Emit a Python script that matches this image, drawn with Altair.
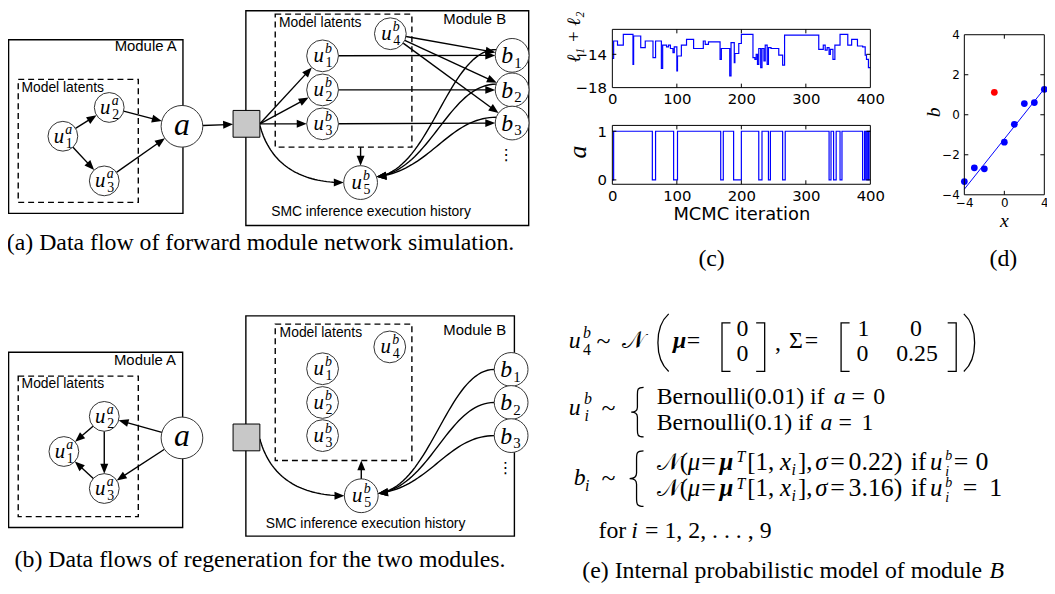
import math
import numpy as np
import pandas as pd
import altair as alt

# ======================= values =======================
# (c) upper trace: l1 + l2 over the MCMC run, given as (iteration, value) step changes
ll_steps = [
    (0, -14.5), (2, -12.4), (8, -12.9), (17, -11.6), (32, -15.2), (33, -11.8),
    (44, -13.2), (51, -12.4), (63, -14.4), (67, -12.4), (76, -15.7), (78, -12.9),
    (84, -13.1), (87, -12.9), (90, -13.3), (94, -13.8), (96, -13.1), (100, -16.0),
    (101, -14.2), (107, -12.9), (115, -12.2), (126, -13.3), (141, -12.4), (144, -12.8),
    (149, -12.5), (167, -14.6), (169, -13.3), (182, -16.6), (184, -12.6), (189, -15.0),
    (190, -13.9), (196, -12.7), (200, -11.6), (218, -14.4), (221, -14.6), (223, -14.0),
    (225, -15.2), (227, -13.3), (230, -15.6), (232, -13.3), (235, -14.8), (237, -12.9),
    (240, -15.2), (242, -13.2), (246, -13.3), (258, -14.1), (264, -15.3), (267, -11.7),
    (320, -13.4), (327, -12.9), (330, -13.5), (333, -13.2), (336, -14.0), (338, -13.4),
    (342, -14.6), (345, -12.9), (353, -11.6), (365, -12.9), (371, -12.2), (380, -13.0),
    (388, -13.1), (392, -14.1), (394, -14.6), (397, -15.6), (400, -15.6),
]
# (c) lower trace: value of a, (iteration, value) step changes
a_steps = [
    (0, 0), (2, 1), (62, 0), (67, 1), (95, 0), (101, 1), (168, 0), (172, 1),
    (188, 0), (200, 1), (227, 0), (232, 1), (242, 0), (245, 1), (264, 0), (268, 1),
    (336, 0), (339, 1), (343, 0), (347, 1), (353, 0), (356, 1), (388, 0), (391, 1),
    (393, 0), (395, 1), (397, 0), (398, 1), (400, 1),
]
iter_ticks = [0, 100, 200, 300, 400]
ll_ticks = [-18, -14]
a_ticks = [0, 1]
ll_dom = [-18, -11]
a_dom = [-0.09, 1.12]
iter_dom = [0, 400]

# (d) data points, outlier flag and fitted line
d_x = [-4, -3, -2, -1, 0, 1, 2, 3, 4]
d_b = [-3.34, -2.65, -2.7, 1.12, -1.37, -0.48, 0.56, 0.61, 1.27]
d_out = [0, 0, 0, 1, 0, 0, 0, 0, 0]
fit_x = [-4, 4]
fit_b = [-3.72, 1.3]
d_xticks = [-4, 0, 4]
d_bticks = [-4, -2, 0, 2, 4]
d_dom = [-4, 4]

# ======================= layout (reference pixel coordinates) =======================
W, H = 1047, 578
X0 = Y0 = 8
SERIF, SANS, MPL = "Liberation Serif", "Liberation Sans", "DejaVu Sans"

CX = alt.Scale(domain=[X0, X0 + W], range=[0, W], nice=False, zero=False)
CY = alt.Scale(domain=[Y0, Y0 + H], range=[0, H], nice=False, zero=False)


def ex(f="X"):
    return alt.X(f + ":Q", scale=CX, axis=None)


def ey(f="Y"):
    return alt.Y(f + ":Q", scale=CY, axis=None)


# diagram nodes: id -> (kind, x, y, r, main, sup, sub)
NODES = {
    "a_u1": ("u", 63.3, 135, 15, "u", "a", "1"),
    "a_u2": ("u", 110, 106, 15, "u", "a", "2"),
    "a_u3": ("u", 105, 180, 15, "u", "a", "3"),
    "a_a": ("a", 183.3, 125, 21, "a", "", ""),
    "a_sq": ("sq", 248.3, 122.5, 13.5, "", "", ""),
    "a_ub1": ("u", 325, 54, 16, "u", "b", "1"),
    "a_ub2": ("u", 325, 88.3, 16, "u", "b", "2"),
    "a_ub3": ("u", 325, 122.5, 16, "u", "b", "3"),
    "a_ub4": ("u", 393.3, 31.7, 16, "u", "b", "4"),
    "a_ub5": ("u", 363.3, 181.7, 17, "u", "b", "5"),
    "a_b1": ("b", 516, 53.5, 17, "b", "", "1"),
    "a_b2": ("b", 516, 88.3, 17, "b", "", "2"),
    "a_b3": ("b", 516, 121.7, 17, "b", "", "3"),
    "a_lat": ("pt", 363.3, 146, 0, "", "", ""),
    "b_u1": ("u", 64.3, 452.7, 15, "u", "a", "1"),
    "b_u2": ("u", 105, 417.3, 15, "u", "a", "2"),
    "b_u3": ("u", 105, 490, 15, "u", "a", "3"),
    "b_a": ("a", 183.3, 439, 21, "a", "", ""),
    "b_sq": ("sq", 248.3, 438.5, 13.5, "", "", ""),
    "b_ub1": ("u", 325, 369.3, 16, "u", "b", "1"),
    "b_ub2": ("u", 325, 403.3, 16, "u", "b", "2"),
    "b_ub3": ("u", 325, 436.7, 16, "u", "b", "3"),
    "b_ub4": ("u", 392.7, 347.3, 16, "u", "b", "4"),
    "b_ub5": ("u", 364, 497.3, 17, "u", "b", "5"),
    "b_b1": ("b", 515, 370, 17, "b", "", "1"),
    "b_b2": ("b", 515, 403.3, 17, "b", "", "2"),
    "b_b3": ("b", 515, 436.7, 17, "b", "", "3"),
    "b_lat": ("pt", 364, 461.7, 0, "", "", ""),
}
EDGES = [
    ("a_u1", "a_u2"), ("a_u1", "a_u3"), ("a_u2", "a_a"), ("a_u3", "a_a"), ("a_a", "a_sq"),
    ("a_sq", "a_ub1"), ("a_sq", "a_ub2"), ("a_sq", "a_ub3"),
    ("a_ub1", "a_b1"), ("a_ub2", "a_b2"), ("a_ub3", "a_b3"),
    ("a_ub4", "a_b1"), ("a_ub4", "a_b2"), ("a_ub4", "a_b3"), ("a_lat", "a_ub5"),
    ("b_a", "b_u2"), ("b_a", "b_u3"), ("b_u2", "b_u1"), ("b_u2", "b_u3"), ("b_u3", "b_u1"),
    ("b_ub5", "b_lat"),
]
CURVES = [
    ("a_sq", "a_ub5", "sq"), ("a_b1", "a_ub5", "bA"), ("a_b2", "a_ub5", "bA"), ("a_b3", "a_ub5", "bA"),
    ("b_sq", "b_ub5", "sq"), ("b_b1", "b_ub5", "bB"), ("b_b2", "b_ub5", "bB"), ("b_b3", "b_ub5", "bB"),
]
BOX_SOLID = [(8.6, 37.7, 184.3, 212.7), (247.7, 8.6, 532.7, 225),
             (8.6, 352.7, 184, 529.3), (247.7, 316, 518.3, 538)]
BOX_DASH = [(18.3, 77.7, 139.3, 201.7), (277.3, 12, 415, 146),
            (18.3, 376.7, 139.3, 518.3), (277.3, 324.3, 415, 461.7)]
AH = 10  # arrow head length
ARROW = "M1,0L-1,-0.8L-1,0.8Z"


# --------- geometry from the node table ---------
def unit(dx, dy):
    n = math.hypot(dx, dy) or 1.0
    return dx / n, dy / n


seg_rows, head_rows = [], []
for s, t in EDGES:
    ks, sx, sy, sr = NODES[s][:4]
    kt, tx, ty, tr = NODES[t][:4]
    if ks == "sq":
        p0 = (sx + sr, sy)
    else:
        ux, uy = unit(tx - sx, ty - sy)
        p0 = (sx + ux * sr, sy + uy * sr)
    ux, uy = unit(tx - p0[0], ty - p0[1])
    if kt == "sq":
        k = min(tr / abs(ux) if ux else 1e9, tr / abs(uy) if uy else 1e9)
    else:
        k = tr
    tip = (tx - ux * k, ty - uy * k)
    seg_rows.append((p0[0], p0[1], tip[0] - ux * AH * 0.6, tip[1] - uy * AH * 0.6))
    head_rows.append((tip[0] - ux * AH / 2, tip[1] - uy * AH / 2, math.degrees(math.atan2(uy, ux)) % 360))

curve_rows = []
for ci, (s, t, style) in enumerate(CURVES):
    ks, sx, sy, sr = NODES[s][:4]
    kt, tx, ty, tr = NODES[t][:4]
    if style == "sq":
        P0 = np.array([sx + sr, sy + 1.5])
        P3 = np.array([tx - tr, ty])
        P1 = np.array([P0[0] + 10, P0[1] + 0.65 * (P3[1] - P0[1])])
        P2 = np.array([P3[0] - 0.55 * (P3[0] - P0[0]), P3[1]])
    else:
        a0 = math.radians(200 if style == "bA" else 180)
        a3 = math.radians(-20 if style == "bA" else -8)
        P0 = np.array([sx + sr * math.cos(a0), sy + sr * math.sin(a0)])
        P3 = np.array([tx + tr * math.cos(a3), ty + tr * math.sin(a3)])
        dx = P0[0] - P3[0]
        P1 = np.array([P0[0] - 0.4 * dx, P0[1]])
        P2 = np.array([P3[0] + 0.45 * dx, P3[1] - 6])
    ux, uy = unit(*(P3 - P2))
    for k, tt in enumerate(np.linspace(0, 0.97, 40)):
        p = (1 - tt) ** 3 * P0 + 3 * (1 - tt) ** 2 * tt * P1 + 3 * (1 - tt) * tt ** 2 * P2 + tt ** 3 * P3
        curve_rows.append((ci, k, p[0], p[1]))
    head_rows.append((P3[0] - ux * AH / 2, P3[1] - uy * AH / 2, math.degrees(math.atan2(uy, ux)) % 360))

# --------- text pieces ---------
T = []  # (text, x, y_baseline, class, size, align)
for nid, (kind, x, y, r, main, sup, sub) in NODES.items():
    if kind == "u":
        T += [(main, x - 4, y + 6.5, "it", 21, "center"), (sup, x + 6, y - 2.5, "it", 14, "center"),
              (sub, x + 6.5, y + 11.5, "rm", 14, "center")]
    elif kind == "a":
        T.append((main, x, y + 8.5, "it", 32, "center"))
    elif kind == "b":
        T += [(main, x - 5, y + 8, "it", 24, "center"), (sub, x + 6, y + 12.5, "rm", 15, "center")]

T += [
    ("Module A", 178, 49.5, "sans", 15, "right"), ("Model latents", 21.5, 90.2, "sans", 14, "left"),
    ("Module B", 510, 21.5, "sans", 15, "right"), ("Model latents", 281, 24.5, "sans", 14, "left"),
    ("SMC inference execution history", 373.8, 215, "sans", 14, "center"),
    ("Module A", 177.3, 366, "sans", 15, "right"), ("Model latents", 21.7, 389, "sans", 14, "left"),
    ("Module B", 510, 335, "sans", 15, "right"), ("Model latents", 281.7, 337, "sans", 14, "left"),
    ("SMC inference execution history", 368.3, 530, "sans", 14, "center"),
    ("⋮", 510, 159, "dv", 16, "center"), ("⋮", 509.3, 474, "dv", 16, "center"),
    # captions
    ("(a) Data flow of forward module network simulation.", 262.5, 250, "rm", 24, "center"),
    ("(b) Data flows of regeneration for the two modules.", 262, 569, "rm", 24, "center"),
    ("(c)", 717, 266, "rm", 24, "center"), ("(d)", 1011, 266, "rm", 24, "center"),
    ("(e) Internal probabilistic model of module", 586.7, 580, "rm", 24, "left"),
    ("B", 997, 580, "it", 24, "left"),
    ("x", 1012, 226, "it", 20, "center"),
    # (e) line 1
    ("u", 573, 348.5, "it", 24, "left"), ("b", 587.5, 338, "it", 16, "left"), ("4", 587.5, 355.5, "rm", 16, "left"),
    ("~", 601, 349, "rm", 26, "left"), ("𝒩", 627, 348.5, "rm", 24, "left"),
    ("μ", 678, 348.5, "bi", 24, "left"), ("=", 692, 348.5, "rm", 24, "left"),
    ("0", 748, 336.5, "rm", 24, "center"), ("0", 748, 361.5, "rm", 24, "center"),
    (",", 781, 350, "rm", 24, "left"), ("Σ", 795, 348.5, "rm", 24, "left"), ("=", 811, 348.5, "rm", 24, "left"),
    ("1", 870, 336.5, "rm", 24, "center"), ("0", 923, 336.5, "rm", 24, "center"),
    ("0", 869, 361.5, "rm", 24, "center"), ("0.25", 924, 361.5, "rm", 24, "center"),
    # (e) lines 2-3
    ("u", 573, 416, "it", 24, "left"), ("b", 588.5, 405, "it", 16, "left"), ("i", 589, 421.5, "it", 16, "left"),
    ("~", 606, 416.5, "rm", 26, "left"),
    ("Bernoulli(0.01) if", 661.7, 405, "rm", 24, "left"), ("a", 840, 405, "it", 24, "left"),
    ("=", 858, 405, "rm", 24, "left"), ("0", 880, 405, "rm", 24, "left"),
    ("Bernoulli(0.1) if", 661.7, 431, "rm", 24, "left"), ("a", 826.7, 431, "it", 24, "left"),
    ("=", 845, 431, "rm", 24, "left"), ("1", 868, 431, "rm", 24, "left"),
    # (e) line 4
    ("b", 578, 486.7, "it", 24, "left"), ("i", 589.5, 492, "it", 16, "left"), ("~", 606, 487.5, "rm", 26, "left"),
    # (e) last line
    ("for", 603, 540, "rm", 24, "left"), ("i", 636, 540, "it", 24, "left"),
    ("= 1, 2, . . . , 9", 650, 540, "rm", 24, "left"),
]
CASES = [(471, "0.22)", [("=", 961), ("0", 983)]), (498, "3.16)", [("=", 970), ("1", 996.7)])]
for yb, val, tail in CASES:
    T += [("𝒩", 661.5, yb, "rm", 24, "left"), ("(", 685, yb, "rm", 25, "left"), ("μ", 693, yb, "it", 25, "left"),
          ("=", 706.5, yb, "rm", 26, "left"), ("μ", 725, yb, "bi", 25, "left"), ("T", 742, yb - 8, "it", 16, "left"),
          ("[1,", 753, yb, "rm", 25, "left"), ("x", 786, yb, "it", 25, "left"), ("i", 797.5, yb + 5, "it", 16, "left"),
          ("],", 804, yb, "rm", 25, "left"), ("σ", 821.5, yb, "it", 25, "left"), ("=", 836.5, yb, "rm", 26, "left"),
          (val, 855, yb, "rm", 26, "left"), ("if", 918, yb, "rm", 25, "left"), ("u", 937, yb, "it", 25, "left"),
          ("b", 952.5, yb - 10, "it", 14, "left"), ("i", 952.5, yb + 6, "it", 14, "left")]
    T += [(s_, x_, yb, "rm", 26, "left") for s_, x_ in tail]

ROT = [("ℓ₁ + ℓ₂", 578, 35, 19), ("a", 582, 151, 26), ("b", 941, 111, 20)]

PAREN_L = "M0.2,-1C-0.3,-0.55,-0.3,0.55,0.2,1"
PAREN_R = "M-0.2,-1C0.3,-0.55,0.3,0.55,-0.2,1"
BRACK_L = "M0.35,-1L0,-1L0,1L0.35,1"
BRACK_R = "M-0.35,-1L0,-1L0,1L-0.35,1"
BRACE = ("M0.3,-1C0.05,-1,0.05,-0.9,0.05,-0.7L0.05,-0.2C0.05,-0.05,-0.05,0,-0.2,0"
         "C-0.05,0,0.05,0.05,0.05,0.2L0.05,0.7C0.05,0.9,0.05,1,0.3,1")
DELIMS = [(668, 343, PAREN_L, 58), (977, 343, PAREN_R, 58), (727.5, 347.5, BRACK_L, 49),
          (770.5, 347.5, BRACK_R, 49), (847.5, 347.5, BRACK_L, 49), (963.5, 347.5, BRACK_R, 49),
          (641, 413, BRACE, 50), (640, 480, BRACE, 56)]

# ======================= layers =======================
layers = []
bs = pd.DataFrame(BOX_SOLID, columns=["X", "Y", "X2", "Y2"])
bd = pd.DataFrame(BOX_DASH, columns=["X", "Y", "X2", "Y2"])
layers.append(alt.Chart(bs).mark_rect(fillOpacity=0, stroke="black", strokeWidth=1.4).encode(
    x=ex(), y=ey(), x2="X2:Q", y2="Y2:Q"))
layers.append(alt.Chart(bd).mark_rect(fillOpacity=0, stroke="black", strokeWidth=1.4, strokeDash=[6, 4]).encode(
    x=ex(), y=ey(), x2="X2:Q", y2="Y2:Q"))
seg = pd.DataFrame(seg_rows, columns=["X", "Y", "X2", "Y2"])
layers.append(alt.Chart(seg).mark_rule(color="black", strokeWidth=1.4).encode(
    x=ex(), y=ey(), x2="X2:Q", y2="Y2:Q"))
cur = pd.DataFrame(curve_rows, columns=["cid", "k", "X", "Y"])
layers.append(alt.Chart(cur).mark_line(color="black", strokeWidth=1.4).encode(
    x=ex(), y=ey(), detail="cid:N", order="k:Q"))

nd = pd.DataFrame([(k, v[0], v[1], v[2], v[3]) for k, v in NODES.items()],
                  columns=["id", "kind", "X", "Y", "r"])
circ = nd[nd.kind.isin(["u", "a", "b"])].copy()
circ["sz"] = (2 * circ["r"]) ** 2
sq = nd[nd.kind == "sq"].copy()
sq["sz"] = (2 * sq["r"]) ** 2
layers.append(alt.Chart(sq).mark_point(shape="square", filled=True, fill="#c8c8c8", stroke="black",
                                       strokeWidth=1, opacity=1).encode(
    x=ex(), y=ey(), size=alt.Size("sz:Q", scale=None)))
layers.append(alt.Chart(circ).mark_point(shape="circle", filled=True, fill="white", stroke="#333",
                                         strokeWidth=1, opacity=1).encode(
    x=ex(), y=ey(), size=alt.Size("sz:Q", scale=None)))
hd = pd.DataFrame(head_rows, columns=["X", "Y", "ang"])
layers.append(alt.Chart(hd).mark_point(shape=ARROW, filled=True, color="black", opacity=1,
                                       size=AH * AH, strokeWidth=0).encode(
    x=ex(), y=ey(), angle=alt.Angle("ang:Q", scale=None)))

dl = pd.DataFrame(DELIMS, columns=["X", "Y", "shp", "h"])
dl["sz"] = dl["h"] ** 2
layers.append(alt.Chart(dl).mark_point(filled=False, color="black", opacity=1, strokeWidth=1.3).encode(
    x=ex(), y=ey(), shape=alt.Shape("shp:N", scale=None), size=alt.Size("sz:Q", scale=None)))

STY = {"rm": dict(font=SERIF), "it": dict(font=SERIF, fontStyle="italic"),
       "bi": dict(font=SERIF, fontStyle="italic", fontWeight="bold"),
       "sans": dict(font=SANS), "dv": dict(font=MPL)}
tx = pd.DataFrame([r for r in T if r[0]], columns=["t", "X", "Y", "cls", "s", "al"])
for (cls, al), g in tx.groupby(["cls", "al"]):
    layers.append(alt.Chart(g).mark_text(align=al, baseline="alphabetic", color="black", **STY[cls]).encode(
        x=ex(), y=ey(), text="t:N", size=alt.Size("s:Q", scale=None)))
rt = pd.DataFrame(ROT, columns=["t", "X", "Y", "s"])
layers.append(alt.Chart(rt).mark_text(font=SERIF, fontStyle="italic", angle=270, align="center",
                                      baseline="middle", color="black").encode(
    x=ex(), y=ey(), text="t:N", size=alt.Size("s:Q", scale=None)))


# --------- data plots (c) and (d) with their own scales ---------
def pscale(dom, p0, p1, off):
    return alt.Scale(domain=dom, range=[p0 - off, p1 - off], nice=False, zero=False)


def frame(xdom, ydom, sxs, sys, xt, yt, ppx, ppy, tl=4):
    fr = pd.DataFrame({"x": [xdom[0]], "x2": [xdom[1]], "y": [ydom[0]], "y2": [ydom[1]]})
    out = [alt.Chart(fr).mark_rect(fillOpacity=0, stroke="black", strokeWidth=1).encode(
        x=alt.X("x:Q", scale=sxs, axis=None), x2="x2:Q", y=alt.Y("y:Q", scale=sys, axis=None), y2="y2:Q")]
    ly, lx = tl / ppy, tl / ppx
    rows = []
    for t in xt:
        if xdom[0] < t < xdom[1]:
            rows += [(t, t, ydom[0], ydom[0] + ly), (t, t, ydom[1] - ly, ydom[1])]
    for v in yt:
        if ydom[0] < v < ydom[1]:
            rows += [(xdom[0], xdom[0] + lx, v, v), (xdom[1] - lx, xdom[1], v, v)]
    tk = pd.DataFrame(rows, columns=["x", "x2", "y", "y2"])
    out.append(alt.Chart(tk).mark_rule(color="black", strokeWidth=1).encode(
        x=alt.X("x:Q", scale=sxs, axis=None), x2="x2:Q", y=alt.Y("y:Q", scale=sys, axis=None), y2="y2:Q"))
    return out


def axis(orient, off, values, size, pad, title=None, **kw):
    args = dict(orient=orient, offset=off, values=values, domain=False, ticks=False, grid=False,
                labelPadding=pad, labelFontSize=size, labelFont=MPL, labelColor="black",
                labelFlush=False, labelOverlap=False, format="d", title=title)
    args.update(kw)
    return alt.Axis(**args)


CL, CR = 617, 877
c1_top, c1_bot = 27.3, 86
c2_top, c2_bot = 124.1, 183.4
sx_c = pscale(iter_dom, CL, CR, X0)
sy_c1 = pscale(ll_dom, c1_bot, c1_top, Y0)
sy_c2 = pscale(a_dom, c2_bot, c2_top, Y0)
ppx_c = (CR - CL) / (iter_dom[1] - iter_dom[0])

df_ll = pd.DataFrame(ll_steps, columns=["it", "v"])
df_a = pd.DataFrame(a_steps, columns=["it", "v"])
layers.append(alt.Chart(df_ll).mark_line(interpolate="step-after", color="#0000ff", strokeWidth=1.2).encode(
    x=alt.X("it:Q", scale=sx_c, axis=axis("bottom", (c1_bot - Y0) - H, iter_ticks, 15, 4)),
    y=alt.Y("v:Q", scale=sy_c1, axis=axis("left", -(CL - X0), ll_ticks, 15, 6))))
layers += frame(iter_dom, ll_dom, sx_c, sy_c1, iter_ticks, ll_ticks, ppx_c,
                (c1_bot - c1_top) / (ll_dom[1] - ll_dom[0]))
layers.append(alt.Chart(df_a).mark_line(interpolate="step-after", color="#0000ff", strokeWidth=1.2).encode(
    x=alt.X("it:Q", scale=sx_c, axis=axis("bottom", (c2_bot - Y0) - H, iter_ticks, 15, 4,
                                           title="MCMC iteration", titleFont=MPL, titleFontSize=18,
                                           titleFontWeight="normal", titleColor="black", titlePadding=3)),
    y=alt.Y("v:Q", scale=sy_c2, axis=axis("left", -(CL - X0), a_ticks, 15, 6))))
layers += frame(iter_dom, a_dom, sx_c, sy_c2, iter_ticks, a_ticks, ppx_c,
                (c2_bot - c2_top) / (a_dom[1] - a_dom[0]))

DL, DR, DT, DB = 971.7, 1052.3, 32.7, 194
sx_d = pscale(d_dom, DL, DR, X0)
sy_d = pscale(d_dom, DB, DT, Y0)
df_d = pd.DataFrame({"x": d_x, "b": d_b, "o": d_out})
df_fit = pd.DataFrame({"x": fit_x, "b": fit_b})
layers.append(alt.Chart(df_fit).mark_line(color="#0000ff", strokeWidth=1).encode(
    x=alt.X("x:Q", scale=sx_d, axis=None), y=alt.Y("b:Q", scale=sy_d, axis=None)))
layers.append(alt.Chart(df_d).mark_circle(size=46, opacity=1).encode(
    x=alt.X("x:Q", scale=sx_d, axis=axis("bottom", (DB - Y0) - H, d_xticks, 12, 3)),
    y=alt.Y("b:Q", scale=sy_d, axis=axis("left", -(DL - X0), d_bticks, 12, 5)),
    color=alt.Color("o:N", scale=alt.Scale(domain=[0, 1], range=["#0000ff", "#ff0000"]), legend=None)))
layers += frame(d_dom, d_dom, sx_d, sy_d, d_xticks, d_bticks, (DR - DL) / 8, (DB - DT) / 8)

chart = alt.layer(*layers).resolve_scale(x="independent", y="independent").properties(
    width=W, height=H, padding=0, autosize=alt.AutoSizeParams(type="none"),
    background="white").configure_view(stroke=None)

chart.save("out.html", embed_options={"renderer": "svg", "actions": False})
